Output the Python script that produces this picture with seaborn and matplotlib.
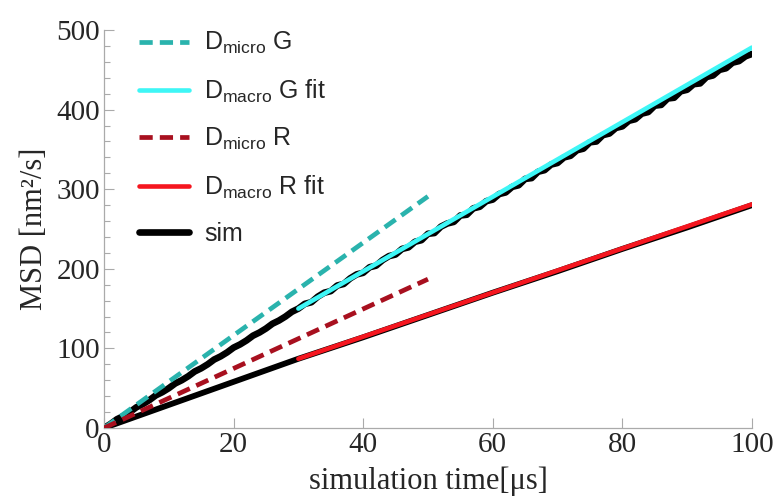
import numpy as np
import pandas as pd
import matplotlib
matplotlib.use("Agg")
import matplotlib.pyplot as plt
import seaborn as sns
from matplotlib.ticker import MultipleLocator

# data
t_sim_g = list(range(0, 101))
msd_sim_g = [0, 5, 11, 15, 20, 26, 30, 35, 41, 45, 50, 56, 60, 65, 71, 75, 80, 86,
             90, 95, 101, 105, 110, 116, 120, 125, 131, 135, 140, 146, 150,
             156, 158, 165, 170, 172, 179, 181, 188, 193, 195,
             202, 204, 211, 216, 218, 225, 227, 234, 236, 244,
             245, 253, 257, 259, 267, 268, 276, 278, 285, 287,
             294, 296, 303, 305, 313, 314, 322, 324, 331, 333,
             340, 342, 349, 351, 359, 360, 368, 370, 377, 379,
             386, 388, 395, 397, 405, 406, 414, 415, 423, 425,
             432, 433, 441, 443, 450, 452, 459, 461, 467, 470]
t_sim_r = [0, 10, 20, 30, 40, 50, 60, 70, 80, 90, 100]
msd_sim_r = [0, 29, 58, 87, 114, 142, 170, 197, 225, 252, 280]

t_micro = [0, 50]
micro_g = [0, 291]
micro_r = [0, 187]

t_macro = [30, 100]
macro_g = [150, 478]
macro_r = [87, 281]

labels = [r"D$_{\mathrm{micro}}$ G", r"D$_{\mathrm{macro}}$ G fit",
          r"D$_{\mathrm{micro}}$ R", r"D$_{\mathrm{macro}}$ R fit", "sim"]

sns.set_style("white")
plt.rcParams['font.family'] = ['Liberation Serif', 'DejaVu Serif']
plt.rcParams['mathtext.fontset'] = 'custom'
plt.rcParams['mathtext.rm'] = 'Liberation Sans'
plt.rcParams['mathtext.it'] = 'Liberation Sans:italic'
plt.rcParams['mathtext.bf'] = 'Liberation Sans:bold'

fig = plt.figure(figsize=(7.8, 5.01), dpi=100)
ax = fig.add_axes([0.1333, 0.1457, 0.8307, 0.7943])

teal = "#2ab3ad"
cyan = "#3ef6f6"
dred = "#a8101f"
red = "#f5161f"

# sim curves
sns.lineplot(x=t_sim_g, y=msd_sim_g, color="black", linewidth=4.8, ax=ax, zorder=2)
sns.lineplot(x=t_sim_r, y=msd_sim_r, color="black", linewidth=4.2, ax=ax, zorder=2)
# fits
sns.lineplot(x=t_macro, y=macro_g, color=cyan, linewidth=3.3, ax=ax, zorder=3)
sns.lineplot(x=t_macro, y=macro_r, color=red, linewidth=3.3, ax=ax, zorder=3)
# micro
sns.lineplot(x=t_micro, y=micro_g, color=teal, linewidth=3.4,
             linestyle=(0, (2.8, 1.5)), ax=ax, zorder=4)
sns.lineplot(x=t_micro, y=micro_r, color=dred, linewidth=3.4,
             linestyle=(0, (2.8, 1.5)), ax=ax, zorder=4)

lines = ax.get_lines()
handles = [lines[4], lines[2], lines[5], lines[3], lines[0]]
leg = ax.legend(handles, labels, loc="upper left", bbox_to_anchor=(0.02, 1.056),
                frameon=False, handlelength=2.0, handletextpad=0.6,
                labelspacing=0.85, prop={'family': 'Liberation Sans', 'size': 18})

ax.set_xlim(0, 100)
ax.set_ylim(0, 500)
ax.xaxis.set_major_locator(MultipleLocator(20))
ax.yaxis.set_major_locator(MultipleLocator(100))
ax.yaxis.set_minor_locator(MultipleLocator(20))
ax.tick_params(axis='both', which='major', direction='in', length=7, width=0.8,
               color='#aaaaaa', labelsize=21)
ax.tick_params(axis='x', which='major', pad=3)
ax.tick_params(axis='y', which='major', pad=3)
ax.tick_params(axis='y', which='minor', direction='in', length=4, width=0.8,
               color='#aaaaaa', left=True)
ax.tick_params(axis='x', bottom=True)
ax.tick_params(axis='y', left=True)
for s in ['top', 'right']:
    ax.spines[s].set_visible(False)
for s in ['left', 'bottom']:
    ax.spines[s].set_color('#aaaaaa')
    ax.spines[s].set_linewidth(0.9)

ax.set_xlabel("simulation time[μs]", fontsize=22, labelpad=6)
ax.set_ylabel("MSD [nm²/s]", fontsize=22, labelpad=5)

fig.savefig("out.png", dpi=100)
